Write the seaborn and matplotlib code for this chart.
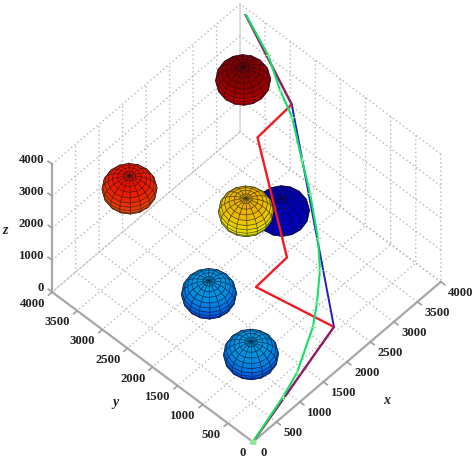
import numpy as np
import matplotlib
matplotlib.use('Agg')
import matplotlib.pyplot as plt
import seaborn as sns
from mpl_toolkits.mplot3d import proj3d

# threat spheres: centre, radius and the part of the colormap each one covers
sphere_x = [3445, 1080, 2150, 3150, 1110, 720]
sphere_y = [3420, 3470, 2150, 2370, 1915, 712]
sphere_z = [3000, 2500, 2000, 500, 1000, 1000]
sphere_r = 400
color_low = [0.87, 0.76, 0.58, 0.11, 0.14, 0.14]
color_high = [0.99, 0.89, 0.71, 0.08, 0.29, 0.29]

# planned paths
red_x = [0, 1911, 1455, 2071, 2950, 3602, 4000]
red_y = [0, 175, 1301, 1260, 2670, 2598, 4000]
red_z = [0, 1000, 1500, 1700, 2700, 3000, 4000]

blue_x = [0, 1911, 3602, 4000]
blue_y = [0, 175, 2598, 4000]
blue_z = [0, 1000, 3000, 4000]

green_x = [0, 791, 1186, 1787, 2062, 2403, 2681, 3031, 3220, 3480, 3593, 3812, 4000]
green_y = [0, 143, 234, 478, 654, 914, 1214, 1700, 2037, 2479, 2823, 3267, 4000]
green_z = [0, 250, 400, 800, 1000, 1300, 1600, 2000, 2400, 2900, 3200, 3500, 4000]

xy_ticks = [0, 500, 1000, 1500, 2000, 2500, 3000, 3500, 4000]
z_ticks = [0, 1000, 2000, 3000, 4000]

sns.set_theme(style='white', rc={'grid.color': '#b8b8b8', 'grid.linestyle': (0, (1, 2)),
                                 'grid.linewidth': 1.0})
plt.rcParams['font.family'] = ['Liberation Serif', 'DejaVu Serif']

W, H = 474, 461
fig = plt.figure(figsize=(W / 100, H / 100), dpi=100)
ax = fig.add_axes([25.7 / W, 17.2 / H, 430 / W, 430 / H], projection='3d', computed_zorder=False)
ax.set_proj_type('ortho')
ax.view_init(elev=52.9, azim=-136.9)
ax.set_box_aspect((275, 275, 212))
ax.set_xlim(0, 4000, view_margin=0)
ax.set_ylim(0, 4000, view_margin=0)
ax.set_zlim(0, 4000, view_margin=0)

jet = plt.get_cmap('jet')
u = np.linspace(0, 2 * np.pi, 17)
v = np.linspace(0, np.pi, 15)
sx = np.outer(np.cos(u), np.sin(v))
sy = np.outer(np.sin(u), np.sin(v))
sz = np.outer(np.ones_like(u), np.cos(v))
# dark blue one sits behind the yellow one
draw_order = [3, 0, 1, 2, 4, 5]
for k, i in enumerate(draw_order):
    shade = color_low[i] + (color_high[i] - color_low[i]) * (sz + 1) / 2
    faces = jet(shade) * np.array([0.93, 0.93, 0.88, 1])
    ax.plot_surface(sphere_x[i] + sphere_r * sx, sphere_y[i] + sphere_r * sy, sphere_z[i] + sphere_r * sz,
                    facecolors=faces, rstride=1, cstride=1, shade=False,
                    edgecolor=(0.05, 0.05, 0.1, 0.42), linewidth=0.6, zorder=5 + k)

# red and blue share the first and last legs, blue shows through there
ax.plot(red_x, red_y, red_z, color='#f01c24', lw=1.7, zorder=20)
ax.plot(blue_x[:2], blue_y[:2], blue_z[:2], color='#2222c0', lw=1.4, alpha=0.55, zorder=21)
ax.plot(blue_x[1:3], blue_y[1:3], blue_z[1:3], color='#2222c0', lw=1.4, zorder=19)
ax.plot(blue_x[2:], blue_y[2:], blue_z[2:], color='#2222c0', lw=1.4, alpha=0.55, zorder=21)
ax.plot(green_x, green_y, green_z, color='#14e068', lw=1.5, marker='+', ms=4.5, mew=0.8,
        mec='#8fe89a', zorder=22)
ax.plot(green_x[-1:], green_y[-1:], green_z[-1:], ls='none', marker='s', ms=4, color='#8fe89a', zorder=23)
ax.plot(green_x[:1], green_y[:1], green_z[:1], ls='none', marker='s', ms=2.5, color='#8fe89a', zorder=23)

ax.set_xticks(xy_ticks)
ax.set_yticks(xy_ticks)
ax.set_zticks(z_ticks)
for axis in (ax.xaxis, ax.yaxis, ax.zaxis):
    axis.set_pane_color((1, 1, 1, 0))
    axis.pane.set_edgecolor('none')
    axis.line.set_color('#a8a8a8')
    axis.line.set_linewidth(1.6)
    axis._axinfo['tick'].update({'inward_factor': 0, 'outward_factor': 0})
    axis.set_major_formatter(lambda val, pos: '')
ax.grid(True)

# tick labels and tick marks by hand, mplot3d pushes labels too far along the other axis
M = ax.get_proj()
tick_len = 80
def tick_label(x, y, z, text, dx, dy, ha):
    px, py, _ = proj3d.proj_transform(x, y, z, M)
    ax.annotate(text, xy=(px, py), xytext=(dx, dy), textcoords='offset pixels', ha=ha, va='center',
                fontsize=9.2, fontweight='bold', color='#222222', annotation_clip=False)

for t in xy_ticks:
    ax.plot([t, t], [0, -tick_len], [0, 0], color='#a0a0a0', lw=1.2, zorder=2)
    ax.plot([0, -tick_len], [t, t], [0, 0], color='#a0a0a0', lw=1.2, zorder=2)
    tick_label(t, 0, 0, str(t), 7.5, -11, 'left')
    tick_label(0, t, 0, str(t), -7, -11.5, 'right')
for t in z_ticks:
    ax.plot([0, 0], [4000, 4000 + tick_len], [t, t], color='#a0a0a0', lw=1.2, zorder=2)
    tick_label(0, 4000, t, str(t), -8, 4, 'right')

fig.text(387 / W, 1 - 400 / H, 'x', fontsize=10, style='italic', fontweight='bold', color='#222222', ha='center', va='center')
fig.text(115 / W, 1 - 402 / H, 'y', fontsize=10, style='italic', fontweight='bold', color='#222222', ha='center', va='center')
fig.text(5 / W, 1 - 230 / H, 'z', fontsize=10, style='italic', fontweight='bold', color='#222222', ha='center', va='center')

fig.savefig('out.png', dpi=100)
